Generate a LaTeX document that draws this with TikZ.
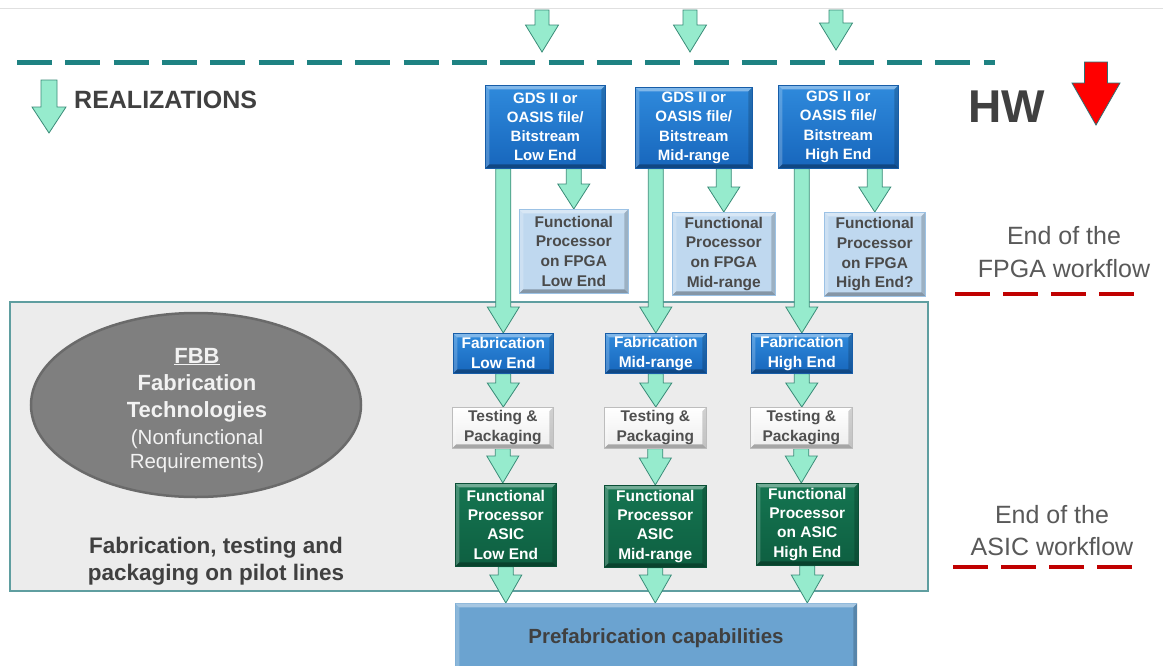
\documentclass[tikz,border=0pt]{standalone}
\usepackage{fontspec}
\setmainfont{Liberation Sans}
\usetikzlibrary{calc,shapes.geometric}
\pgfdeclarelayer{back}
\pgfdeclarelayer{mid}
\pgfsetlayers{back,mid,main}
\definecolor{arrowfill}{HTML}{96EBCD}
\definecolor{arrowline}{HTML}{3A8C78}
\definecolor{teal1}{HTML}{1E8282}
\definecolor{bluetop}{HTML}{2F8ADC}
\definecolor{bluebot}{HTML}{1766BC}
\definecolor{blueline}{HTML}{175DA8}
\definecolor{fpgafill}{HTML}{BFD8EF}
\definecolor{fpgaline}{HTML}{9CC2E5}
\definecolor{fpgatext}{HTML}{4A4A4A}
\definecolor{testfill}{HTML}{EDEDED}
\definecolor{testline}{HTML}{BDBDBD}
\definecolor{testtext}{HTML}{505050}
\definecolor{asictop}{HTML}{157551}
\definecolor{asicbot}{HTML}{0E5F41}
\definecolor{asicline}{HTML}{0B4F36}
\definecolor{prefabfill}{HTML}{6BA3D0}
\definecolor{panelfill}{HTML}{ECECEC}
\definecolor{panelline}{HTML}{5F9EA0}
\definecolor{ellfill}{HTML}{7F7F7F}
\definecolor{ellline}{HTML}{6A6A6A}
\definecolor{darktext}{HTML}{404040}
\definecolor{midtext}{HTML}{595959}
\definecolor{redline}{HTML}{C00000}
\definecolor{hwred}{HTML}{FF0000}
\definecolor{hwline}{HTML}{2F6F73}
\newcommand\bvl{4pt}
\tikzset{
  flow/.style n args={3}{draw=arrowline, fill=arrowfill, line width=0.8pt, line join=miter,
    to path={let \p1=(\tikztostart), \p2=(\tikztotarget) in
      (\x1-#1,\y1) -- (\x1-#1,\y2+#3) -- (\x1-#2,\y2+#3) -- (\x1,\y2) -- (\x1+#2,\y2+#3) -- (\x1+#1,\y2+#3) -- (\x1+#1,\y1) -- cycle}},
  stdflow/.style={flow={7.5pt}{16pt}{24pt}},
  bevel/.style={path picture={
    \coordinate (bSW) at (path picture bounding box.south west);
    \coordinate (bNE) at (path picture bounding box.north east);
    \coordinate (bNW) at (bSW |- bNE);
    \coordinate (bSE) at (bNE |- bSW);
    \coordinate (iSW) at ([shift={(\bvl,\bvl)}]bSW);
    \coordinate (iNE) at ([shift={(-\bvl,-\bvl)}]bNE);
    \coordinate (iNW) at ([shift={(\bvl,-\bvl)}]bNW);
    \coordinate (iSE) at ([shift={(-\bvl,\bvl)}]bSE);
    \fill[white,opacity=.40] (bNW) -- (bNE) -- (iNE) -- (iNW) -- cycle;
    \fill[white,opacity=.22] (bNW) -- (iNW) -- (iSW) -- (bSW) -- cycle;
    \fill[black,opacity=.30] (bSW) -- (bSE) -- (iSE) -- (iSW) -- cycle;
    \fill[black,opacity=.18] (bNE) -- (bSE) -- (iSE) -- (iNE) -- cycle;
  }},
  sz/.style 2 args={minimum width=#1pt, minimum height=#2pt},
  boxbase/.style={rectangle, anchor=north west, inner sep=0pt, align=center, bevel, line width=0.6pt},
  gdsbox/.style={boxbase, top color=bluetop, bottom color=bluebot, draw=blueline, text=white,
    font=\fontsize{15}{19.3}\selectfont\bfseries},
  fabbox/.style={boxbase, top color=bluetop, bottom color=bluebot, draw=blueline, text=white,
    font=\fontsize{15.5}{20}\selectfont\bfseries},
  fpgabox/.style={boxbase, fill=fpgafill, draw=fpgaline, text=fpgatext,
    font=\fontsize{15.5}{19.8}\selectfont\bfseries},
  testbox/.style={boxbase, top color=white, bottom color=testfill, draw=testline, text=testtext,
    font=\fontsize{15.5}{20}\selectfont\bfseries},
  asicbox/.style={boxbase, top color=asictop, bottom color=asicbot, draw=asicline, text=white,
    font=\fontsize{15.5}{19.3}\selectfont\bfseries},
  prefabbox/.style={boxbase, fill=prefabfill, text=darktext,
    font=\fontsize{20.5}{24}\selectfont\bfseries},
  lbl/.style={inner sep=0pt, anchor=base},
  elltext/.style={lbl, text=white!95!black, font=\fontsize{22}{26}\selectfont\bfseries},
  ellsmall/.style={lbl, text=white!95!black, font=\fontsize{20.5}{24}\selectfont},
  endtext/.style={lbl, text=midtext, font=\fontsize{25}{30}\selectfont},
  redsep/.style={draw=redline, line width=3.5pt, dash pattern=on 35pt off 13pt},
}
\begin{document}
\begin{tikzpicture}[x=1pt,y=-1pt]
\useasboundingbox (0,0) rectangle (1163,665);
\begin{pgfonlayer}{back}
\fill[white] (0,0) rectangle (1163,665);
\draw[fill=panelfill, draw=panelline, line width=1.5pt] (10,302) rectangle (928,591);
\end{pgfonlayer}
\draw[black!12, line width=1pt] (0,8) -- (1163,8);
\draw[teal1, line width=5pt, dash pattern=on 35pt off 13.33pt] (17,62) -- (995,62);

% legend
\node[lbl, anchor=base west, text=darktext, font=\fontsize{25}{30}\selectfont\bfseries] (realiz) at (74,108) {REALIZATIONS};
\node[lbl, anchor=base west, text=darktext, font=\fontsize{46}{50}\selectfont\bfseries] (hw) at (968,122) {HW};
\coordinate (legS) at (49,80);
\coordinate (legE) at (49,133);
\coordinate (hwS) at (1096,62);
\coordinate (hwE) at (1096,125);
\draw[flow={8pt}{17pt}{26pt}] (legS) to (legE);
\draw[flow={11.5pt}{24pt}{42pt}, fill=hwred, draw=hwline] (hwS) to (hwE);

% right side labels
\node[endtext] (fpgaend1) at (1064,244) {End of the};
\node[endtext] (fpgaend2) at (1064,277) {FPGA workflow};
\draw[redsep] (955,294) -- (1135,294);
\node[endtext] (asicend1) at (1052,523) {End of the};
\node[endtext] (asicend2) at (1052,555) {ASIC workflow};
\draw[redsep] (953,567) -- (1133,567);

% pilot-line panel content
\node[ellipse, minimum width=330pt, minimum height=184pt, fill=ellfill, draw=ellline, line width=2.5pt, inner sep=0pt] (fbb) at (196,405) {};
\node[elltext] (fbb1) at (197,363) {\underline{FBB}};
\node[elltext] (fbb2) at (197,390) {Fabrication};
\node[elltext] (fbb3) at (197,417) {Technologies};
\node[ellsmall] (fbb4) at (197,444) {(Nonfunctional};
\node[ellsmall] (fbb5) at (197,468) {Requirements)};
\node[lbl, text=darktext, font=\fontsize{22.5}{27}\selectfont\bfseries] (pilot1) at (216,553) {Fabrication, testing and};
\node[lbl, text=darktext, font=\fontsize{22.5}{27}\selectfont\bfseries] (pilot2) at (216,580) {packaging on pilot lines};

% design files
\node[gdsbox, sz={120}{83}] (gds1) at (485,85) {GDS II or\\OASIS file/\\Bitstream\\Low End};
\node[gdsbox, sz={117}{81}] (gds2) at (635,87) {GDS II or\\OASIS file/\\Bitstream\\Mid-range};
\node[gdsbox, sz={120}{83}] (gds3) at (778,85) {GDS II or\\OASIS file/\\Bitstream\\High End};

\node[fpgabox, sz={109}{84}] (fpga1) at (519,209) {Functional\\Processor\\on FPGA\\Low End};
\node[fpgabox, sz={103}{83}] (fpga2) at (672,212) {Functional\\Processor\\on FPGA\\Mid-range};
\node[fpgabox, sz={101}{84}] (fpga3) at (824,212) {Functional\\Processor\\on FPGA\\High End?};

\node[fabbox, sz={100}{40}] (fab1) at (453,333) {Fabrication\\Low End};
\node[fabbox, sz={101}{40}] (fab2) at (605,333) {Fabrication\\Mid-range};
\node[fabbox, sz={101}{40}] (fab3) at (751,333) {Fabrication\\High End};

\node[testbox, sz={101}{41}] (test1) at (452,407) {Testing \&\\Packaging};
\node[testbox, sz={102}{41}] (test2) at (604,407) {Testing \&\\Packaging};
\node[testbox, sz={102}{41}] (test3) at (750,407) {Testing \&\\Packaging};

\node[asicbox, sz={101}{83}] (asic1) at (455,483) {Functional\\Processor\\ASIC\\Low End};
\node[asicbox, sz={102}{82}] (asic2) at (604,485) {Functional\\Processor\\ASIC\\Mid-range};
\node[asicbox, sz={102}{82}] (asic3) at (756,483) {Functional\\Processor\\on ASIC\\High End};

\node[prefabbox, sz={402}{70}, anchor=north west] (prefab) at (455,603) {};
\node[lbl, text=darktext, font=\fontsize{20.5}{24}\selectfont\bfseries] (prefabtxt) at (656,643) {Prefabrication capabilities};

% incoming arrows
\coordinate (in1s) at (542,10); \coordinate (in1e) at (542,52);
\coordinate (in2s) at (690,10); \coordinate (in2e) at (690,52);
\coordinate (in3s) at (836,10); \coordinate (in3e) at (836,50);

\begin{pgfonlayer}{mid}
\draw[flow={7pt}{16.5pt}{27pt}] (in1s) to (in1e);
\draw[flow={7pt}{16.5pt}{27pt}] (in2s) to (in2e);
\draw[flow={7pt}{16.5pt}{27pt}] (in3s) to (in3e);

\draw[flow={7.5pt}{16pt}{25pt}] (gds1.south -| fpga1.north) to (fpga1.north);
\draw[flow={7.5pt}{16pt}{25pt}] (gds2.south -| fpga2.north) to (fpga2.north);
\draw[flow={7.5pt}{16pt}{25pt}] (gds3.south -| fpga3.north) to (fpga3.north);

\draw[flow={7.5pt}{16pt}{26pt}] (gds1.south -| fab1.north) to (fab1.north);
\draw[flow={7.5pt}{16pt}{26pt}] (gds2.south -| fab2.north) to (fab2.north);
\draw[flow={7.5pt}{16pt}{26pt}] (gds3.south -| fab3.north) to (fab3.north);

\draw[stdflow] (fab1.south) to (fab1.south |- test1.north);
\draw[stdflow] (fab2.south) to (fab2.south |- test2.north);
\draw[stdflow] (fab3.south) to (fab3.south |- test3.north);

\draw[flow={7.5pt}{16pt}{27pt}] (test1.south) to (test1.south |- asic1.north);
\draw[flow={7.5pt}{16pt}{27pt}] (test2.south) to (test2.south |- asic2.north);
\draw[flow={7.5pt}{16pt}{27pt}] (test3.south) to (test3.south |- asic3.north);

\draw[flow={7.5pt}{16pt}{28pt}] (asic1.south) to (asic1.south |- prefab.north);
\draw[flow={7.5pt}{16pt}{28pt}] (asic2.south) to (asic2.south |- prefab.north);
\draw[flow={7.5pt}{16pt}{28pt}] (asic3.south) to (asic3.south |- prefab.north);
\end{pgfonlayer}
\end{tikzpicture}
\end{document}
